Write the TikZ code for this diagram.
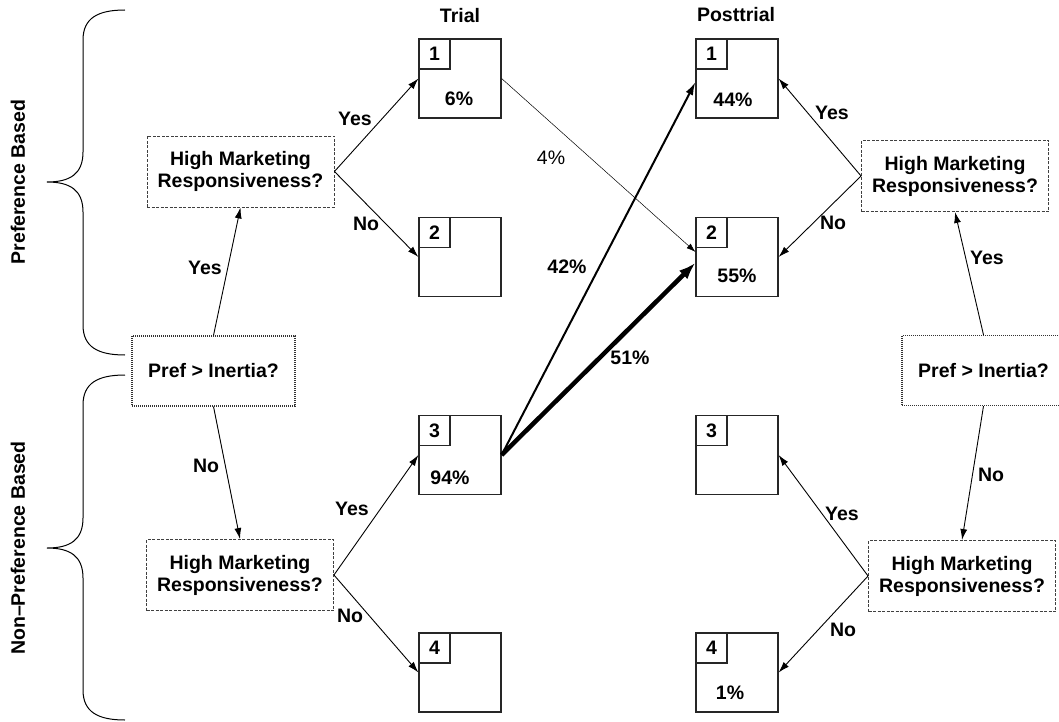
\documentclass[tikz,border=0pt]{standalone}
\usepackage{fontspec}
\setmainfont{Liberation Sans}
\usetikzlibrary{arrows.meta}
\begin{document}
\begin{tikzpicture}[x=1pt,y=-1pt,
  every node/.style={font=\bfseries\fontsize{19.5}{22}\selectfont},
  stbox/.style={draw=black!85, line width=1.2pt, minimum width=82pt, minimum height=79pt, inner sep=0pt},
  numbox/.style={draw=black!85, line width=1.2pt, minimum width=31pt, minimum height=30pt, anchor=north west, inner sep=0pt},
  decbox/.style={draw=black!75, dash pattern=on 3pt off 1.5pt, line width=0.9pt, minimum width=187pt, minimum height=71pt, align=center, inner sep=0pt},
  prefbox/.style={draw=black!80, dash pattern=on 1pt off 1pt, line width=1.1pt, minimum width=163pt, minimum height=70pt, inner sep=0pt},
  arr/.style={-{Latex[length=11pt,width=7pt]}, line width=0.9pt},
  thinarr/.style={-{Latex[length=9pt,width=6pt]}, line width=0.5pt},
  medarr/.style={-{Latex[length=13pt,width=8pt]}, line width=2pt},
  fatarr/.style={-{Latex[length=17pt,width=12pt]}, line width=4.5pt},
  brace/.style={line width=1pt},
  lbl/.style={inner sep=1pt}
]
\useasboundingbox (0,0) rectangle (1059,722);

% braces
\draw[brace] (125,10) .. controls (98,10) and (83,18) .. (83,40) -- (83,152)
  .. controls (83,174) and (70,182) .. (47,182)
  .. controls (70,182) and (83,190) .. (83,212) -- (83,325)
  .. controls (83,347) and (98,355) .. (125,355);
\draw[brace] (125,375) .. controls (98,375) and (83,383) .. (83,405) -- (83,518)
  .. controls (83,540) and (70,548) .. (47,548)
  .. controls (70,548) and (83,556) .. (83,578) -- (83,690)
  .. controls (83,712) and (98,720) .. (125,720);
\node[rotate=90] (lpref) at (18,182) {Preference Based};
\node[rotate=90] (lnon) at (18,548) {Non--Preference Based};

% headers
\node (htrial) at (460,16) {Trial};
\node (hpost) at (736,15) {Posttrial};

% trial boxes
\node[stbox] (t1) at (460,78.5) {};
\node[numbox] (t1n) at (t1.north west) {1};
\node (t1p) at (459,99) {6\%};
\node[stbox] (t2) at (460,257) {};
\node[numbox] (t2n) at (t2.north west) {2};
\node[stbox] (t3) at (460,455) {};
\node[numbox] (t3n) at (t3.north west) {3};
\node (t3p) at (450,478) {94\%};
\node[stbox] (t4) at (460,672.5) {};
\node[numbox] (t4n) at (t4.north west) {4};

% posttrial boxes
\node[stbox] (p1) at (737,78.5) {};
\node[numbox] (p1n) at (p1.north west) {1};
\node (p1p) at (733,100) {44\%};
\node[stbox] (p2) at (737,257) {};
\node[numbox] (p2n) at (p2.north west) {2};
\node (p2p) at (737,276) {55\%};
\node[stbox] (p3) at (737,455) {};
\node[numbox] (p3n) at (p3.north west) {3};
\node[stbox] (p4) at (737,672.5) {};
\node[numbox] (p4n) at (p4.north west) {4};
\node (p4p) at (730,693) {1\%};

% decision boxes
\node[decbox] (dul) at (240.5,171.5) {High Marketing\\Responsiveness?};
\node[decbox] (dll) at (240,575) {High Marketing\\Responsiveness?};
\node[decbox] (dur) at (955,176) {High Marketing\\Responsiveness?};
\node[decbox] (dlr) at (962,576) {High Marketing\\Responsiveness?};
\node[prefbox] (pl) at (213.5,371) {Pref > Inertia?};
\node[prefbox] (pr) at (983.5,370.5) {Pref > Inertia?};

% left tree
\draw[arr] (pl.north) -- (dul.south);
\draw[arr] (pl.south) -- (dll.north);
\draw[arr] (dul.east) -- (t1.west);
\draw[arr] (dul.east) -- (t2.west);
\draw[arr] (dll.east) -- (t3.west);
\draw[arr] (dll.east) -- (t4.west);

% right tree
\draw[arr] (pr.north) -- (dur.south);
\draw[arr] (pr.south) -- (dlr.north);
\draw[arr] (dur.west) -- (p1.east);
\draw[arr] (dur.west) -- (p2.east);
\draw[arr] (dlr.west) -- (p3.east);
\draw[arr] (dlr.west) -- (p4.east);

% transitions
\draw[thinarr] (t1.east) -- (p2.173);
\draw[medarr] (t3.east) -- (p1.185);
\draw[fatarr] (t3.east) -- (p2.188);

% labels
\node[lbl] (ly1) at (355,119) {Yes};
\node[lbl] (ln1) at (366,224) {No};
\node[lbl] (ly2) at (205,268) {Yes};
\node[lbl] (ln2) at (206,466) {No};
\node[lbl] (ly3) at (352,509) {Yes};
\node[lbl] (ln3) at (350,616) {No};
\node[lbl,font=\fontsize{19.5}{22}\selectfont] (l4) at (551,158) {4\%};
\node[lbl] (l42) at (567,267) {42\%};
\node[lbl] (l51) at (630,358) {51\%};
\node[lbl] (ly4) at (832,113) {Yes};
\node[lbl] (ln4) at (833,223) {No};
\node[lbl] (ly5) at (987,258) {Yes};
\node[lbl] (ln5) at (991,475) {No};
\node[lbl] (ly6) at (842,514) {Yes};
\node[lbl] (ln6) at (843,630) {No};
\end{tikzpicture}
\end{document}
